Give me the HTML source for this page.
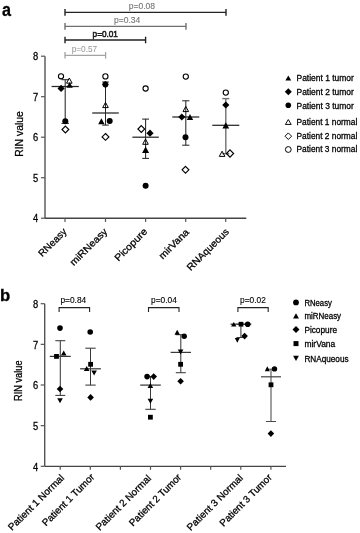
<!DOCTYPE html>
<html><head><meta charset="utf-8"><style>
html,body{margin:0;padding:0;background:#fff;}
body{width:360px;height:533px;overflow:hidden;}
svg{display:block;font-family:"Liberation Sans",sans-serif;will-change:transform;}
</style></head><body>
<svg width="360" height="533" viewBox="0 0 360 533">
<text x="2.0" y="15.7" font-size="17.5" text-anchor="start" font-weight="bold" fill="#000" stroke="#000" stroke-width="0.3" textLength="9.0" lengthAdjust="spacingAndGlyphs" >a</text>
<line x1="65" y1="12.4" x2="226" y2="12.4" stroke="#222" stroke-width="1.4"/>
<line x1="65" y1="9.100000000000001" x2="65" y2="15.7" stroke="#222" stroke-width="1.4"/>
<line x1="226" y1="9.100000000000001" x2="226" y2="15.7" stroke="#222" stroke-width="1.4"/>
<line x1="65" y1="26.4" x2="186" y2="26.4" stroke="#707070" stroke-width="1.4"/>
<line x1="65" y1="23.099999999999998" x2="65" y2="29.7" stroke="#707070" stroke-width="1.4"/>
<line x1="186" y1="23.099999999999998" x2="186" y2="29.7" stroke="#707070" stroke-width="1.4"/>
<line x1="65" y1="40" x2="145.6" y2="40" stroke="#222" stroke-width="1.4"/>
<line x1="65" y1="36.7" x2="65" y2="43.3" stroke="#222" stroke-width="1.4"/>
<line x1="145.6" y1="36.7" x2="145.6" y2="43.3" stroke="#222" stroke-width="1.4"/>
<line x1="65" y1="55.3" x2="105.6" y2="55.3" stroke="#a3a3a3" stroke-width="1.3"/>
<line x1="65" y1="52.0" x2="65" y2="58.599999999999994" stroke="#a3a3a3" stroke-width="1.3"/>
<line x1="105.6" y1="52.0" x2="105.6" y2="58.599999999999994" stroke="#a3a3a3" stroke-width="1.3"/>
<text x="128.7" y="8.8" font-size="8.4" text-anchor="start" font-weight="normal" fill="#777" stroke="#777" stroke-width="0.12" textLength="26.3" lengthAdjust="spacingAndGlyphs" >p=0.08</text>
<text x="114" y="23" font-size="8.4" text-anchor="start" font-weight="normal" fill="#777" stroke="#777" stroke-width="0.12" textLength="26.3" lengthAdjust="spacingAndGlyphs" >p=0.34</text>
<text x="92.6" y="37.1" font-size="8.9" text-anchor="start" font-weight="normal" fill="#1a1a1a" stroke="#1a1a1a" stroke-width="0.55" textLength="25.3" lengthAdjust="spacingAndGlyphs" >p=0.01</text>
<text x="71.7" y="51.8" font-size="8.6" text-anchor="start" font-weight="normal" fill="#999" stroke="#999" stroke-width="0.05" textLength="25.5" lengthAdjust="spacingAndGlyphs" >p=0.57</text>
<line x1="45" y1="56.2" x2="45" y2="218.2" stroke="#555" stroke-width="1.4"/>
<line x1="45" y1="218.2" x2="246.3" y2="218.2" stroke="#454545" stroke-width="1.35"/>
<line x1="41" y1="56.2" x2="45" y2="56.2" stroke="#555" stroke-width="1.2"/>
<text x="38.2" y="60.400000000000006" font-size="10.6" text-anchor="end" font-weight="normal" fill="#000" stroke="#000" stroke-width="0.28" textLength="5.2" lengthAdjust="spacingAndGlyphs" >8</text>
<line x1="41" y1="96.7" x2="45" y2="96.7" stroke="#555" stroke-width="1.2"/>
<text x="38.2" y="100.9" font-size="10.6" text-anchor="end" font-weight="normal" fill="#000" stroke="#000" stroke-width="0.28" textLength="5.2" lengthAdjust="spacingAndGlyphs" >7</text>
<line x1="41" y1="137.2" x2="45" y2="137.2" stroke="#555" stroke-width="1.2"/>
<text x="38.2" y="141.39999999999998" font-size="10.6" text-anchor="end" font-weight="normal" fill="#000" stroke="#000" stroke-width="0.28" textLength="5.2" lengthAdjust="spacingAndGlyphs" >6</text>
<line x1="41" y1="177.7" x2="45" y2="177.7" stroke="#555" stroke-width="1.2"/>
<text x="38.2" y="181.89999999999998" font-size="10.6" text-anchor="end" font-weight="normal" fill="#000" stroke="#000" stroke-width="0.28" textLength="5.2" lengthAdjust="spacingAndGlyphs" >5</text>
<line x1="41" y1="218.2" x2="45" y2="218.2" stroke="#555" stroke-width="1.2"/>
<text x="38.2" y="222.39999999999998" font-size="10.6" text-anchor="end" font-weight="normal" fill="#000" stroke="#000" stroke-width="0.28" textLength="5.2" lengthAdjust="spacingAndGlyphs" >4</text>
<line x1="65" y1="218.2" x2="65" y2="222" stroke="#555" stroke-width="1.2"/>
<line x1="105.5" y1="218.2" x2="105.5" y2="222" stroke="#555" stroke-width="1.2"/>
<line x1="145.6" y1="218.2" x2="145.6" y2="222" stroke="#555" stroke-width="1.2"/>
<line x1="185.7" y1="218.2" x2="185.7" y2="222" stroke="#555" stroke-width="1.2"/>
<line x1="225.7" y1="218.2" x2="225.7" y2="222" stroke="#555" stroke-width="1.2"/>
<text x="0" y="0" font-size="9.8" text-anchor="end" font-weight="normal" fill="#000" stroke="#000" stroke-width="0.28" textLength="35.6" lengthAdjust="spacingAndGlyphs" transform="translate(67.4,232.2) rotate(-45)">RNeasy</text>
<text x="0" y="0" font-size="9.8" text-anchor="end" font-weight="normal" fill="#000" stroke="#000" stroke-width="0.28" textLength="48.3" lengthAdjust="spacingAndGlyphs" transform="translate(107.9,232.2) rotate(-45)">miRNeasy</text>
<text x="0" y="0" font-size="9.8" text-anchor="end" font-weight="normal" fill="#000" stroke="#000" stroke-width="0.28" textLength="41.9" lengthAdjust="spacingAndGlyphs" transform="translate(148.0,232.2) rotate(-45)">Picopure</text>
<text x="0" y="0" font-size="9.8" text-anchor="end" font-weight="normal" fill="#000" stroke="#000" stroke-width="0.28" textLength="38.1" lengthAdjust="spacingAndGlyphs" transform="translate(189.6,232.79999999999998) rotate(-45)">mirVana</text>
<text x="0" y="0" font-size="9.8" text-anchor="end" font-weight="normal" fill="#000" stroke="#000" stroke-width="0.28" textLength="55.1" lengthAdjust="spacingAndGlyphs" transform="translate(229.7,232.29999999999998) rotate(-45)">RNAqueous</text>
<text x="0" y="0" font-size="11.2" text-anchor="middle" font-weight="normal" fill="#000" stroke="#000" stroke-width="0.28" textLength="45.6" lengthAdjust="spacingAndGlyphs" transform="translate(23.0,134) rotate(-90)">RIN value</text>
<line x1="65.2" y1="79.7" x2="65.2" y2="123.4" stroke="#262626" stroke-width="1.05"/>
<line x1="61.5" y1="79.7" x2="68.9" y2="79.7" stroke="#262626" stroke-width="1.05"/>
<line x1="61.5" y1="123.4" x2="68.9" y2="123.4" stroke="#262626" stroke-width="1.05"/>
<line x1="51.6" y1="86.5" x2="78.8" y2="86.5" stroke="#262626" stroke-width="1.25"/>
<circle cx="61" cy="76.3" r="2.6" fill="none" stroke="#000" stroke-width="1.1"/>
<path d="M69.3 78.0L72.1 83.19999999999999L66.5 83.19999999999999Z" fill="none" stroke="#000" stroke-width="1.0" stroke-linejoin="miter"/>
<path d="M69.6 81.95L72.8 87.85000000000001L66.39999999999999 87.85000000000001Z" fill="#000"/>
<path d="M61.1 84.80000000000001L64.7 88.4L61.1 92.0L57.5 88.4Z" fill="#000"/>
<circle cx="65.3" cy="121.3" r="3.0" fill="#000"/>
<path d="M65.4 126.1L68.80000000000001 129.5L65.4 132.9L62.00000000000001 129.5Z" fill="none" stroke="#000" stroke-width="1.15"/>
<line x1="105.5" y1="82" x2="105.5" y2="125.1" stroke="#262626" stroke-width="1.05"/>
<line x1="102.2" y1="82" x2="108.8" y2="82" stroke="#262626" stroke-width="1.05"/>
<line x1="102.2" y1="125.1" x2="108.8" y2="125.1" stroke="#262626" stroke-width="1.05"/>
<line x1="92.2" y1="113" x2="118.8" y2="113" stroke="#262626" stroke-width="1.25"/>
<circle cx="105.4" cy="76.4" r="2.6" fill="none" stroke="#000" stroke-width="1.1"/>
<circle cx="105.4" cy="84.5" r="2.9" fill="#000"/>
<path d="M105.4 81.10000000000001L108.7 84.4L105.4 87.7L102.10000000000001 84.4Z" fill="#000"/>
<path d="M105.5 102.4L108.3 107.6L102.7 107.6Z" fill="none" stroke="#000" stroke-width="1.0" stroke-linejoin="miter"/>
<path d="M101.4 118.25L104.60000000000001 124.15L98.2 124.15Z" fill="#000"/>
<circle cx="109.7" cy="121" r="3.0" fill="#000"/>
<path d="M105.5 133.5L108.9 136.9L105.5 140.3L102.1 136.9Z" fill="none" stroke="#000" stroke-width="1.15"/>
<line x1="145.6" y1="119.1" x2="145.6" y2="158.4" stroke="#262626" stroke-width="1.05"/>
<line x1="142.2" y1="119.1" x2="149.0" y2="119.1" stroke="#262626" stroke-width="1.05"/>
<line x1="142.2" y1="158.4" x2="149.0" y2="158.4" stroke="#262626" stroke-width="1.05"/>
<line x1="132.4" y1="137.2" x2="158.79999999999998" y2="137.2" stroke="#262626" stroke-width="1.25"/>
<circle cx="145.6" cy="88.5" r="2.6" fill="none" stroke="#000" stroke-width="1.1"/>
<path d="M141.3 125.6L144.70000000000002 129L141.3 132.4L137.9 129Z" fill="none" stroke="#000" stroke-width="1.15"/>
<path d="M150 129.6L153.6 133.2L150 136.79999999999998L146.4 133.2Z" fill="#000"/>
<path d="M145.5 139.1L148.3 144.29999999999998L142.7 144.29999999999998Z" fill="none" stroke="#000" stroke-width="1.0" stroke-linejoin="miter"/>
<path d="M145.6 146.5L149.1 153.10000000000002L142.1 153.10000000000002Z" fill="#000"/>
<circle cx="145.6" cy="185.8" r="3.0" fill="#000"/>
<line x1="185.8" y1="100.8" x2="185.8" y2="145.2" stroke="#262626" stroke-width="1.05"/>
<line x1="182.20000000000002" y1="100.8" x2="189.4" y2="100.8" stroke="#262626" stroke-width="1.05"/>
<line x1="182.20000000000002" y1="145.2" x2="189.4" y2="145.2" stroke="#262626" stroke-width="1.05"/>
<line x1="172.3" y1="117" x2="199.3" y2="117" stroke="#262626" stroke-width="1.25"/>
<circle cx="185.8" cy="76.6" r="2.6" fill="none" stroke="#000" stroke-width="1.1"/>
<path d="M185.8 106.4L188.60000000000002 111.6L183.0 111.6Z" fill="none" stroke="#000" stroke-width="1.0" stroke-linejoin="miter"/>
<path d="M181.8 113.4L185.4 117L181.8 120.6L178.20000000000002 117Z" fill="#000"/>
<path d="M190 114.05L193.2 119.95L186.8 119.95Z" fill="#000"/>
<circle cx="185.5" cy="137.3" r="3.0" fill="#000"/>
<path d="M185.5 166.4L188.9 169.8L185.5 173.20000000000002L182.1 169.8Z" fill="none" stroke="#000" stroke-width="1.15"/>
<line x1="225.8" y1="98.6" x2="225.8" y2="153.7" stroke="#707070" stroke-width="1.4"/>
<line x1="222.3" y1="98.6" x2="229.3" y2="98.6" stroke="#707070" stroke-width="1.4"/>
<line x1="222.3" y1="153.7" x2="229.3" y2="153.7" stroke="#707070" stroke-width="1.4"/>
<line x1="212.3" y1="125.3" x2="239.3" y2="125.3" stroke="#262626" stroke-width="1.25"/>
<circle cx="225.8" cy="92.6" r="2.6" fill="none" stroke="#000" stroke-width="1.1"/>
<path d="M225.8 101.4L229.4 105L225.8 108.6L222.20000000000002 105Z" fill="#000"/>
<path d="M225.8 122.2L229.20000000000002 128.4L222.4 128.4Z" fill="#000"/>
<path d="M222.1 151.20000000000002L224.9 156.4L219.29999999999998 156.4Z" fill="none" stroke="#000" stroke-width="1.0" stroke-linejoin="miter"/>
<path d="M230 149.9L233.6 153.5L230 157.1L226.4 153.5Z" fill="none" stroke="#000" stroke-width="1.15"/>
<path d="M288.3 75.6L291.2 80.6L285.40000000000003 80.6Z" fill="#000"/>
<text x="296.5" y="81.2" font-size="8.5" text-anchor="start" font-weight="normal" fill="#000" stroke="#000" stroke-width="0.28" textLength="57.4" lengthAdjust="spacingAndGlyphs" >Patient 1 tumor</text>
<path d="M288.3 88.3L291.8 91.8L288.3 95.3L284.8 91.8Z" fill="#000"/>
<text x="296.5" y="95" font-size="8.5" text-anchor="start" font-weight="normal" fill="#000" stroke="#000" stroke-width="0.28" textLength="57.4" lengthAdjust="spacingAndGlyphs" >Patient 2 tumor</text>
<circle cx="288.3" cy="105.3" r="2.8" fill="#000"/>
<text x="296.5" y="108.5" font-size="8.5" text-anchor="start" font-weight="normal" fill="#000" stroke="#000" stroke-width="0.28" textLength="57.4" lengthAdjust="spacingAndGlyphs" >Patient 3 tumor</text>
<path d="M288.3 119.55L291.2 124.45L285.40000000000003 124.45Z" fill="none" stroke="#000" stroke-width="0.95" stroke-linejoin="miter"/>
<text x="296.5" y="125.4" font-size="8.5" text-anchor="start" font-weight="normal" fill="#000" stroke="#000" stroke-width="0.28" textLength="60.8" lengthAdjust="spacingAndGlyphs" >Patient 1 normal</text>
<path d="M288.3 132.89999999999998L291.6 136.2L288.3 139.5L285.0 136.2Z" fill="none" stroke="#000" stroke-width="0.95"/>
<text x="296.5" y="139.4" font-size="8.5" text-anchor="start" font-weight="normal" fill="#000" stroke="#000" stroke-width="0.28" textLength="60.8" lengthAdjust="spacingAndGlyphs" >Patient 2 normal</text>
<circle cx="288.3" cy="149.5" r="2.9" fill="none" stroke="#000" stroke-width="1.0"/>
<text x="296.5" y="152.2" font-size="8.5" text-anchor="start" font-weight="normal" fill="#000" stroke="#000" stroke-width="0.28" textLength="60.8" lengthAdjust="spacingAndGlyphs" >Patient 3 normal</text>
<text x="0.1" y="300.9" font-size="16.8" text-anchor="start" font-weight="bold" fill="#000" stroke="#000" stroke-width="0.35" textLength="10.2" lengthAdjust="spacingAndGlyphs" >b</text>
<line x1="44.7" y1="303.7" x2="44.7" y2="466.3" stroke="#555" stroke-width="1.4"/>
<line x1="44.7" y1="466.3" x2="286" y2="466.3" stroke="#454545" stroke-width="1.35"/>
<line x1="40.7" y1="303.7" x2="44.7" y2="303.7" stroke="#555" stroke-width="1.2"/>
<text x="38.2" y="307.9" font-size="10.6" text-anchor="end" font-weight="normal" fill="#000" stroke="#000" stroke-width="0.28" textLength="5.2" lengthAdjust="spacingAndGlyphs" >8</text>
<line x1="40.7" y1="344.34999999999997" x2="44.7" y2="344.34999999999997" stroke="#555" stroke-width="1.2"/>
<text x="38.2" y="348.54999999999995" font-size="10.6" text-anchor="end" font-weight="normal" fill="#000" stroke="#000" stroke-width="0.28" textLength="5.2" lengthAdjust="spacingAndGlyphs" >7</text>
<line x1="40.7" y1="385.0" x2="44.7" y2="385.0" stroke="#555" stroke-width="1.2"/>
<text x="38.2" y="389.2" font-size="10.6" text-anchor="end" font-weight="normal" fill="#000" stroke="#000" stroke-width="0.28" textLength="5.2" lengthAdjust="spacingAndGlyphs" >6</text>
<line x1="40.7" y1="425.65" x2="44.7" y2="425.65" stroke="#555" stroke-width="1.2"/>
<text x="38.2" y="429.84999999999997" font-size="10.6" text-anchor="end" font-weight="normal" fill="#000" stroke="#000" stroke-width="0.28" textLength="5.2" lengthAdjust="spacingAndGlyphs" >5</text>
<line x1="40.7" y1="466.29999999999995" x2="44.7" y2="466.29999999999995" stroke="#555" stroke-width="1.2"/>
<text x="38.2" y="470.49999999999994" font-size="10.6" text-anchor="end" font-weight="normal" fill="#000" stroke="#000" stroke-width="0.28" textLength="5.2" lengthAdjust="spacingAndGlyphs" >4</text>
<line x1="60.2" y1="466.3" x2="60.2" y2="469.8" stroke="#555" stroke-width="1.2"/>
<line x1="90.30000000000001" y1="466.3" x2="90.30000000000001" y2="469.8" stroke="#555" stroke-width="1.2"/>
<line x1="120.4" y1="466.3" x2="120.4" y2="469.8" stroke="#555" stroke-width="1.2"/>
<line x1="150.5" y1="466.3" x2="150.5" y2="469.8" stroke="#555" stroke-width="1.2"/>
<line x1="180.60000000000002" y1="466.3" x2="180.60000000000002" y2="469.8" stroke="#555" stroke-width="1.2"/>
<line x1="210.7" y1="466.3" x2="210.7" y2="469.8" stroke="#555" stroke-width="1.2"/>
<line x1="240.8" y1="466.3" x2="240.8" y2="469.8" stroke="#555" stroke-width="1.2"/>
<line x1="270.90000000000003" y1="466.3" x2="270.90000000000003" y2="469.8" stroke="#555" stroke-width="1.2"/>
<text x="0" y="0" font-size="9.8" text-anchor="end" font-weight="normal" fill="#000" stroke="#000" stroke-width="0.28" textLength="74.5" lengthAdjust="spacingAndGlyphs" transform="translate(64.78,478.40) rotate(-45)">Patient 1 Normal</text>
<text x="0" y="0" font-size="9.8" text-anchor="end" font-weight="normal" fill="#000" stroke="#000" stroke-width="0.28" textLength="69.2" lengthAdjust="spacingAndGlyphs" transform="translate(95.02,477.70) rotate(-45)">Patient 1 Tumor</text>
<text x="0" y="0" font-size="9.8" text-anchor="end" font-weight="normal" fill="#000" stroke="#000" stroke-width="0.28" textLength="73.7" lengthAdjust="spacingAndGlyphs" transform="translate(151.75,478.90) rotate(-45)">Patient 2 Normal</text>
<text x="0" y="0" font-size="9.8" text-anchor="end" font-weight="normal" fill="#000" stroke="#000" stroke-width="0.28" textLength="69.2" lengthAdjust="spacingAndGlyphs" transform="translate(181.92,477.84) rotate(-45)">Patient 2 Tumor</text>
<text x="0" y="0" font-size="9.8" text-anchor="end" font-weight="normal" fill="#000" stroke="#000" stroke-width="0.28" textLength="74.5" lengthAdjust="spacingAndGlyphs" transform="translate(243.54,478.55) rotate(-45)">Patient 3 Normal</text>
<text x="0" y="0" font-size="9.8" text-anchor="end" font-weight="normal" fill="#000" stroke="#000" stroke-width="0.28" textLength="69.2" lengthAdjust="spacingAndGlyphs" transform="translate(272.44,478.05) rotate(-45)">Patient 3 Tumor</text>
<text x="0" y="0" font-size="10.2" text-anchor="middle" font-weight="normal" fill="#000" stroke="#000" stroke-width="0.28" textLength="40.4" lengthAdjust="spacingAndGlyphs" transform="translate(22.1,380.7) rotate(-90)">RIN value</text>
<path d="M59.1 312.1V307.6H89.6V312.1" fill="none" stroke="#222" stroke-width="1.1"/>
<text x="60.4" y="303.2" font-size="8.3" text-anchor="start" font-weight="normal" fill="#000" stroke="#000" stroke-width="0.12" textLength="25.8" lengthAdjust="spacingAndGlyphs" >p=0.84</text>
<path d="M148.5 312.1V307.6H179V312.1" fill="none" stroke="#222" stroke-width="1.1"/>
<text x="151" y="303.2" font-size="8.3" text-anchor="start" font-weight="normal" fill="#000" stroke="#000" stroke-width="0.12" textLength="25.8" lengthAdjust="spacingAndGlyphs" >p=0.04</text>
<path d="M237.9 312.1V307.6H268.2V312.1" fill="none" stroke="#222" stroke-width="1.1"/>
<text x="240" y="303.2" font-size="8.3" text-anchor="start" font-weight="normal" fill="#000" stroke="#000" stroke-width="0.12" textLength="25.8" lengthAdjust="spacingAndGlyphs" >p=0.02</text>
<line x1="60.3" y1="340.7" x2="60.3" y2="395.4" stroke="#3a3a3a" stroke-width="1.05"/>
<line x1="55.3" y1="340.7" x2="65.3" y2="340.7" stroke="#3a3a3a" stroke-width="1.05"/>
<line x1="55.3" y1="395.4" x2="65.3" y2="395.4" stroke="#3a3a3a" stroke-width="1.05"/>
<line x1="49.8" y1="356.4" x2="70.8" y2="356.4" stroke="#3a3a3a" stroke-width="1.25"/>
<circle cx="60" cy="328.1" r="2.8" fill="#000"/>
<path d="M63.7 350.4L66.5 355.4L60.900000000000006 355.4Z" fill="#000"/>
<rect x="54.1" y="354.0" width="4.8" height="4.8" fill="#000"/>
<path d="M60 385.7L63.3 389L60 392.3L56.7 389Z" fill="#000"/>
<path d="M57.2 398.2L62.8 398.2L60 403.2Z" fill="#000"/>
<line x1="90.5" y1="348.2" x2="90.5" y2="385.1" stroke="#3a3a3a" stroke-width="1.05"/>
<line x1="85.3" y1="348.2" x2="95.7" y2="348.2" stroke="#3a3a3a" stroke-width="1.05"/>
<line x1="85.3" y1="385.1" x2="95.7" y2="385.1" stroke="#3a3a3a" stroke-width="1.05"/>
<line x1="80.1" y1="368.8" x2="100.9" y2="368.8" stroke="#3a3a3a" stroke-width="1.25"/>
<circle cx="90.2" cy="332" r="2.8" fill="#000"/>
<rect x="88.19999999999999" y="361.90000000000003" width="4.8" height="4.8" fill="#000"/>
<path d="M86.7 366.1L89.5 371.1L83.9 371.1Z" fill="#000"/>
<path d="M91.3 370.5L96.89999999999999 370.5L94.1 375.5Z" fill="#000"/>
<path d="M90.6 394.09999999999997L93.89999999999999 397.4L90.6 400.7L87.3 397.4Z" fill="#000"/>
<line x1="150.5" y1="376.6" x2="150.5" y2="409.3" stroke="#3a3a3a" stroke-width="1.05"/>
<line x1="145.3" y1="376.6" x2="155.7" y2="376.6" stroke="#3a3a3a" stroke-width="1.05"/>
<line x1="145.3" y1="409.3" x2="155.7" y2="409.3" stroke="#3a3a3a" stroke-width="1.05"/>
<line x1="140.2" y1="385.1" x2="160.8" y2="385.1" stroke="#3a3a3a" stroke-width="1.25"/>
<circle cx="147.1" cy="376.6" r="2.8" fill="#000"/>
<path d="M153.7 373.3L157.0 376.6L153.7 379.90000000000003L150.39999999999998 376.6Z" fill="#000"/>
<path d="M150.4 382.9L153.20000000000002 387.9L147.6 387.9Z" fill="#000"/>
<path d="M147.6 398.8L153.20000000000002 398.8L150.4 403.8Z" fill="#000"/>
<rect x="148.0" y="414.8" width="4.8" height="4.8" fill="#000"/>
<line x1="180.8" y1="334.7" x2="180.8" y2="372.7" stroke="#3a3a3a" stroke-width="1.05"/>
<line x1="175.8" y1="334.7" x2="185.8" y2="334.7" stroke="#3a3a3a" stroke-width="1.05"/>
<line x1="175.8" y1="372.7" x2="185.8" y2="372.7" stroke="#3a3a3a" stroke-width="1.05"/>
<line x1="170.60000000000002" y1="352.4" x2="191.0" y2="352.4" stroke="#3a3a3a" stroke-width="1.25"/>
<path d="M177.2 329.8L179.89999999999998 334.8L174.5 334.8Z" fill="#000"/>
<circle cx="184.2" cy="336.3" r="2.7" fill="#000"/>
<path d="M177.79999999999998 349.5L183.4 349.5L180.6 354.5Z" fill="#000"/>
<rect x="178.2" y="361.90000000000003" width="4.8" height="4.8" fill="#000"/>
<path d="M180.6 377.9L183.9 381.2L180.6 384.5L177.29999999999998 381.2Z" fill="#000"/>
<line x1="240.9" y1="324.2" x2="240.9" y2="337.5" stroke="#3a3a3a" stroke-width="1.05"/>
<line x1="236.4" y1="324.2" x2="245.4" y2="324.2" stroke="#3a3a3a" stroke-width="1.05"/>
<line x1="236.4" y1="337.5" x2="245.4" y2="337.5" stroke="#3a3a3a" stroke-width="1.05"/>
<line x1="230.5" y1="324.2" x2="251.3" y2="324.2" stroke="#3a3a3a" stroke-width="1.25"/>
<path d="M233.75 322.0L236.45 326.6L231.05 326.6Z" fill="#000"/>
<rect x="238.65" y="321.84999999999997" width="4.7" height="4.7" fill="#000"/>
<circle cx="247.7" cy="324.2" r="2.8" fill="#000"/>
<path d="M244.6 332.8L247.9 336.1L244.6 339.40000000000003L241.29999999999998 336.1Z" fill="#000"/>
<path d="M234.8 337.90000000000003L239.8 337.90000000000003L237.3 342.7Z" fill="#000"/>
<line x1="271" y1="369.2" x2="271" y2="421.5" stroke="#4a4a4a" stroke-width="1.05"/>
<line x1="265.9" y1="369.2" x2="276.1" y2="369.2" stroke="#4a4a4a" stroke-width="1.05"/>
<line x1="265.9" y1="421.5" x2="276.1" y2="421.5" stroke="#4a4a4a" stroke-width="1.05"/>
<line x1="261" y1="376.8" x2="281" y2="376.8" stroke="#4a4a4a" stroke-width="1.25"/>
<path d="M267.3 366.2L269.8 371.2L264.8 371.2Z" fill="#000"/>
<circle cx="274.5" cy="368.9" r="2.7" fill="#000"/>
<rect x="268.6" y="382.40000000000003" width="4.8" height="4.8" fill="#000"/>
<path d="M270.9 430.3L274.2 433.6L270.9 436.90000000000003L267.59999999999997 433.6Z" fill="#000"/>
<circle cx="296" cy="302.4" r="2.9" fill="#000"/>
<text x="304.4" y="305.6" font-size="8.4" text-anchor="start" font-weight="normal" fill="#000" stroke="#000" stroke-width="0.28" textLength="27.5" lengthAdjust="spacingAndGlyphs" >RNeasy</text>
<path d="M296 313.25L299.0 318.54999999999995L293.0 318.54999999999995Z" fill="#000"/>
<text x="304.4" y="319.2" font-size="8.4" text-anchor="start" font-weight="normal" fill="#000" stroke="#000" stroke-width="0.28" textLength="36.7" lengthAdjust="spacingAndGlyphs" >miRNeasy</text>
<path d="M296 326.1L299.5 329.6L296 333.1L292.5 329.6Z" fill="#000"/>
<text x="304.4" y="332.6" font-size="8.4" text-anchor="start" font-weight="normal" fill="#000" stroke="#000" stroke-width="0.28" textLength="32.6" lengthAdjust="spacingAndGlyphs" >Picopure</text>
<rect x="293.5" y="341.1" width="5.0" height="5.0" fill="#000"/>
<text x="304.4" y="347.3" font-size="8.4" text-anchor="start" font-weight="normal" fill="#000" stroke="#000" stroke-width="0.28" textLength="30.9" lengthAdjust="spacingAndGlyphs" >mirVana</text>
<path d="M293.1 355.79999999999995L298.9 355.79999999999995L296 361.0Z" fill="#000"/>
<text x="304.4" y="362.0" font-size="8.4" text-anchor="start" font-weight="normal" fill="#000" stroke="#000" stroke-width="0.28" textLength="44.2" lengthAdjust="spacingAndGlyphs" >RNAqueous</text>
</svg>
</body></html>
